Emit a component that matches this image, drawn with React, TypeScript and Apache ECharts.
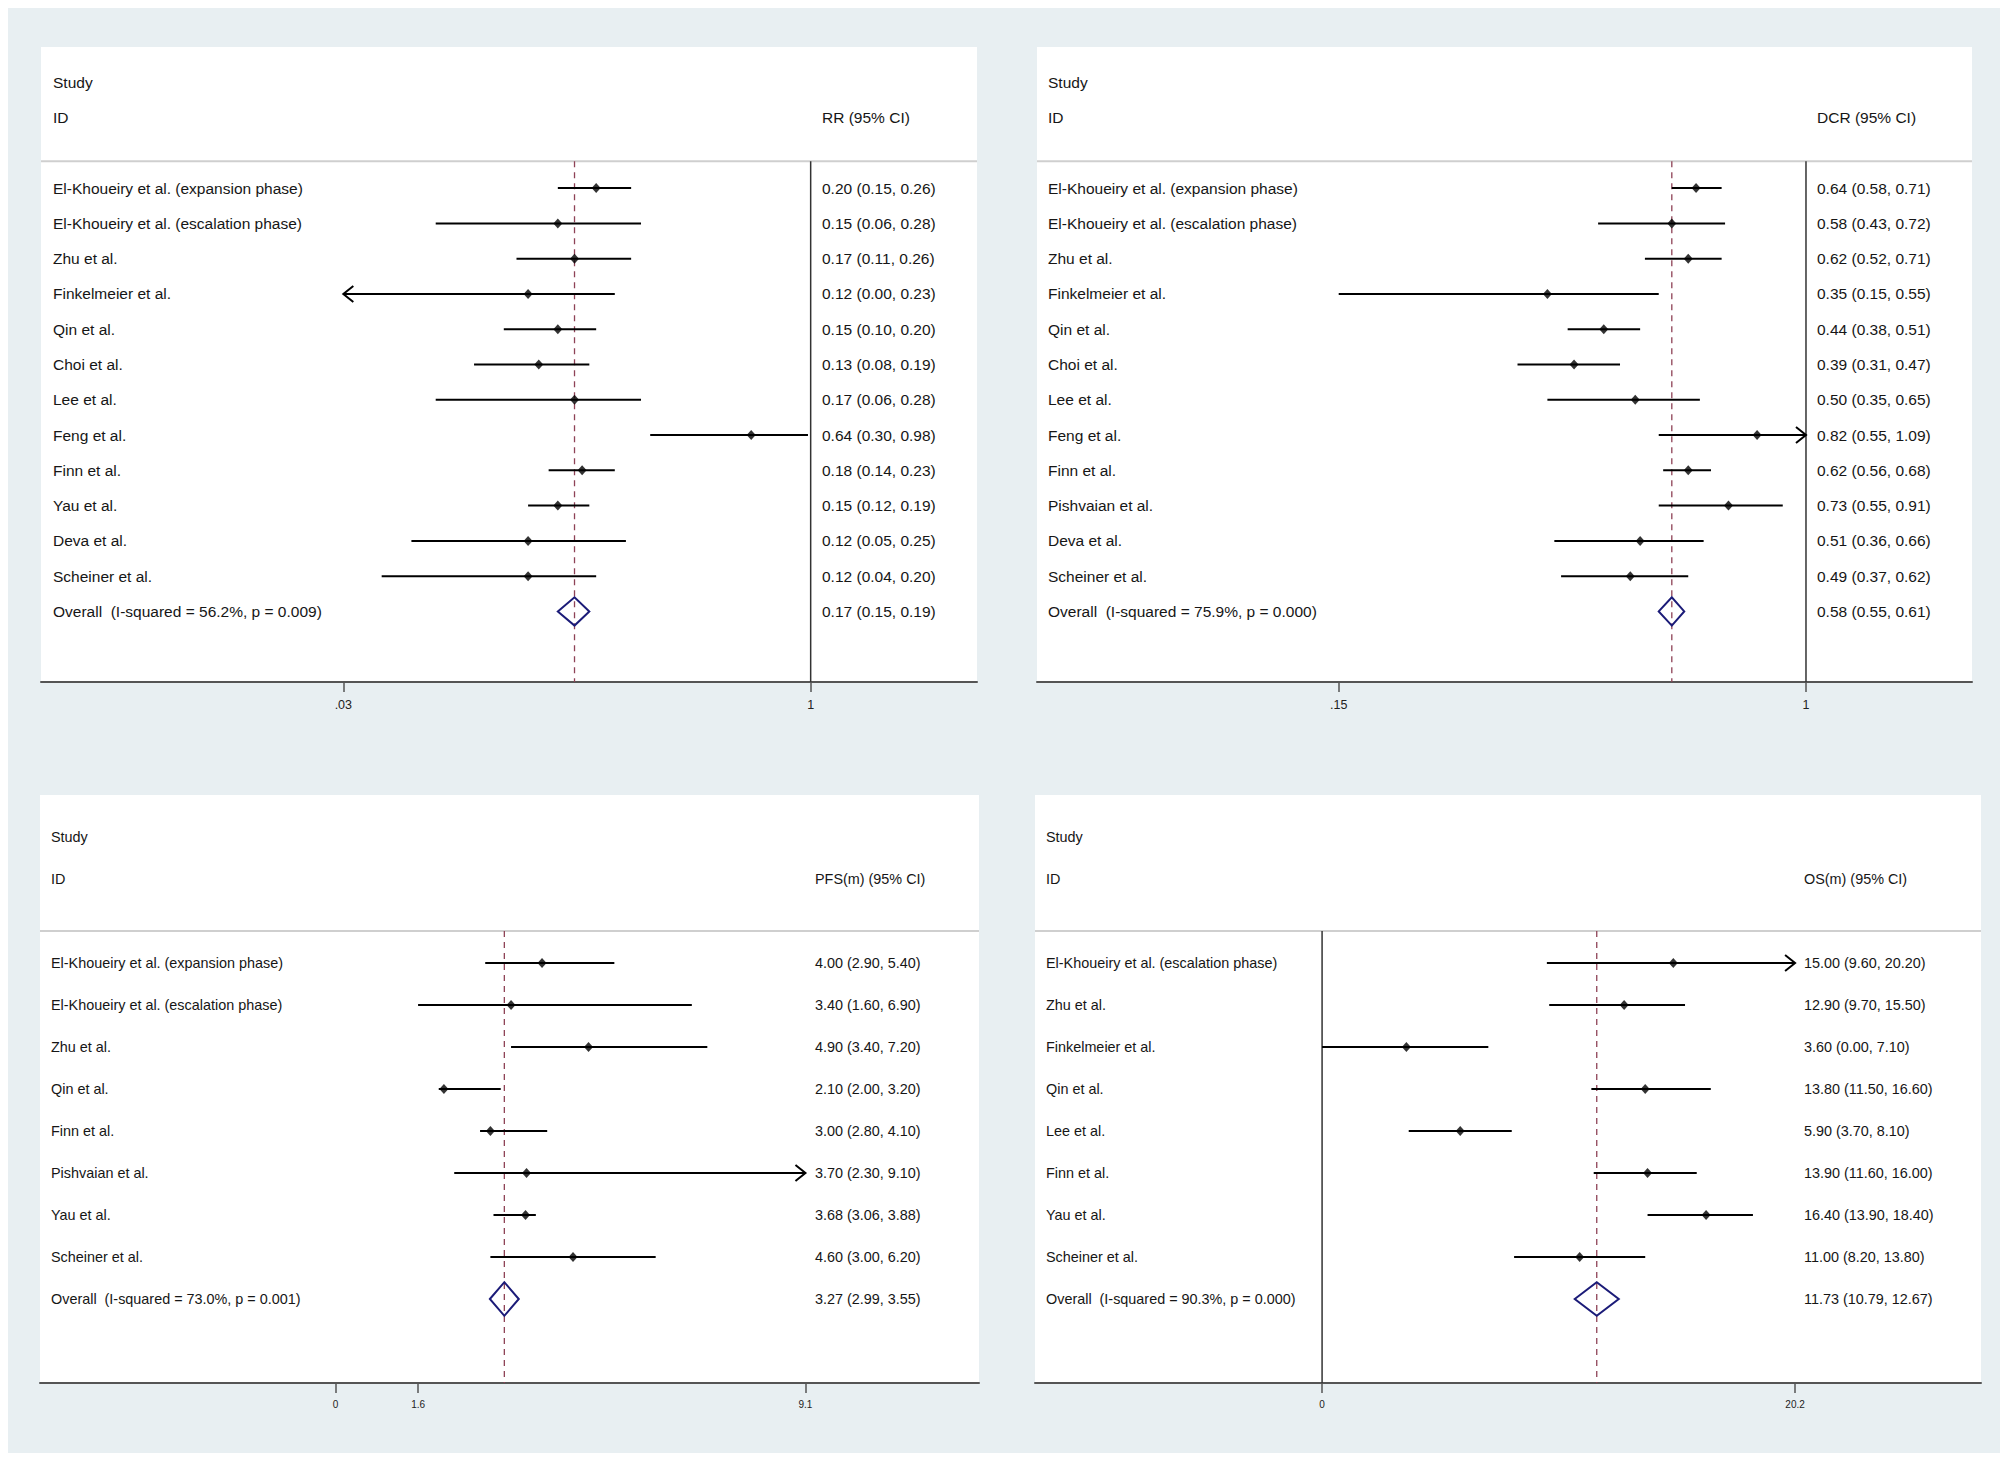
import React, { useEffect, useRef } from "react";
import * as echarts from "echarts";

// ---------- Panel 1: RR ----------
const rrStudies = [
  "El-Khoueiry et al. (expansion phase)",
  "El-Khoueiry et al. (escalation phase)",
  "Zhu et al.",
  "Finkelmeier et al.",
  "Qin et al.",
  "Choi et al.",
  "Lee et al.",
  "Feng et al.",
  "Finn et al.",
  "Yau et al.",
  "Deva et al.",
  "Scheiner et al.",
];
const rrEstimate = [0.2, 0.15, 0.17, 0.12, 0.15, 0.13, 0.17, 0.64, 0.18, 0.15, 0.12, 0.12];
const rrLower = [0.15, 0.06, 0.11, 0.0, 0.1, 0.08, 0.06, 0.3, 0.14, 0.12, 0.05, 0.04];
const rrUpper = [0.26, 0.28, 0.26, 0.23, 0.2, 0.19, 0.28, 0.98, 0.23, 0.19, 0.25, 0.2];
const rrOverall = [0.17, 0.15, 0.19];
const rrOverallLabel = "Overall  (I-squared = 56.2%, p = 0.009)";
const rrTicks = [0.03, 1];
const rrTickLabels = [".03", "1"];

// ---------- Panel 2: DCR ----------
const dcrStudies = [
  "El-Khoueiry et al. (expansion phase)",
  "El-Khoueiry et al. (escalation phase)",
  "Zhu et al.",
  "Finkelmeier et al.",
  "Qin et al.",
  "Choi et al.",
  "Lee et al.",
  "Feng et al.",
  "Finn et al.",
  "Pishvaian et al.",
  "Deva et al.",
  "Scheiner et al.",
];
const dcrEstimate = [0.64, 0.58, 0.62, 0.35, 0.44, 0.39, 0.5, 0.82, 0.62, 0.73, 0.51, 0.49];
const dcrLower = [0.58, 0.43, 0.52, 0.15, 0.38, 0.31, 0.35, 0.55, 0.56, 0.55, 0.36, 0.37];
const dcrUpper = [0.71, 0.72, 0.71, 0.55, 0.51, 0.47, 0.65, 1.09, 0.68, 0.91, 0.66, 0.62];
const dcrOverall = [0.58, 0.55, 0.61];
const dcrOverallLabel = "Overall  (I-squared = 75.9%, p = 0.000)";
const dcrTicks = [0.15, 1];
const dcrTickLabels = [".15", "1"];

// ---------- Panel 3: PFS ----------
const pfsStudies = [
  "El-Khoueiry et al. (expansion phase)",
  "El-Khoueiry et al. (escalation phase)",
  "Zhu et al.",
  "Qin et al.",
  "Finn et al.",
  "Pishvaian et al.",
  "Yau et al.",
  "Scheiner et al.",
];
const pfsEstimate = [4.0, 3.4, 4.9, 2.1, 3.0, 3.7, 3.68, 4.6];
const pfsLower = [2.9, 1.6, 3.4, 2.0, 2.8, 2.3, 3.06, 3.0];
const pfsUpper = [5.4, 6.9, 7.2, 3.2, 4.1, 9.1, 3.88, 6.2];
const pfsOverall = [3.27, 2.99, 3.55];
const pfsOverallLabel = "Overall  (I-squared = 73.0%, p = 0.001)";
const pfsTicks = [0, 1.6, 9.1];
const pfsTickLabels = ["0", "1.6", "9.1"];

// ---------- Panel 4: OS ----------
const osStudies = [
  "El-Khoueiry et al. (escalation phase)",
  "Zhu et al.",
  "Finkelmeier et al.",
  "Qin et al.",
  "Lee et al.",
  "Finn et al.",
  "Yau et al.",
  "Scheiner et al.",
];
const osEstimate = [15.0, 12.9, 3.6, 13.8, 5.9, 13.9, 16.4, 11.0];
const osLower = [9.6, 9.7, 0.0, 11.5, 3.7, 11.6, 13.9, 8.2];
const osUpper = [20.2, 15.5, 7.1, 16.6, 8.1, 16.0, 18.4, 13.8];
const osOverall = [11.73, 10.79, 12.67];
const osOverallLabel = "Overall  (I-squared = 90.3%, p = 0.000)";
const osTicks = [0, 20.2];
const osTickLabels = ["0", "20.2"];

const TEXT = "#161616";
const FONT = '"Liberation Sans", Arial, sans-serif';

type Panel = {
  studies: string[];
  est: number[];
  lo: number[];
  hi: number[];
  overall: number[];
  overallLabel: string;
  header: string;
  ticks: number[];
  tickLabels: string[];
  log: boolean;
  nullValue: number | null;
  grid: { left: number; top: number; width: number; height: number };
  xMin: number;
  xMax: number;
  fontSize: number;
  tickFont: number;
  labelMargin: number;
  nameX: number;
  estX: number;
};

const panels: Panel[] = [
  {
    studies: rrStudies, est: rrEstimate, lo: rrLower, hi: rrUpper,
    overall: rrOverall, overallLabel: rrOverallLabel, header: "RR (95% CI)",
    ticks: rrTicks, tickLabels: rrTickLabels, log: true, nullValue: 1,
    grid: { left: 33, top: 39, width: 936, height: 635 },
    xMin: -5.775, xMax: 1.248, fontSize: 15.5, tickFont: 12.5, labelMargin: 16,
    nameX: 12, estX: 781,
  },
  {
    studies: dcrStudies, est: dcrEstimate, lo: dcrLower, hi: dcrUpper,
    overall: dcrOverall, overallLabel: dcrOverallLabel, header: "DCR (95% CI)",
    ticks: dcrTicks, tickLabels: dcrTickLabels, log: true, nullValue: 1,
    grid: { left: 1029, top: 39, width: 935, height: 635 },
    xMin: -3.122, xMax: 0.674, fontSize: 15.5, tickFont: 12.5, labelMargin: 16,
    nameX: 11, estX: 780,
  },
  {
    studies: pfsStudies, est: pfsEstimate, lo: pfsLower, hi: pfsUpper,
    overall: pfsOverall, overallLabel: pfsOverallLabel, header: "PFS(m) (95% CI)",
    ticks: pfsTicks, tickLabels: pfsTickLabels, log: false, nullValue: null,
    grid: { left: 32, top: 787, width: 939, height: 588 },
    xMin: -5.72, xMax: 12.46, fontSize: 14.4, tickFont: 10, labelMargin: 16,
    nameX: 11, estX: 775,
  },
  {
    studies: osStudies, est: osEstimate, lo: osLower, hi: osUpper,
    overall: osOverall, overallLabel: osOverallLabel, header: "OS(m) (95% CI)",
    ticks: osTicks, tickLabels: osTickLabels, log: false, nullValue: 0,
    grid: { left: 1027, top: 787, width: 946, height: 588 },
    xMin: -12.26, xMax: 28.14, fontSize: 14.4, tickFont: 10, labelMargin: 16,
    nameX: 11, estX: 769,
  },
];

const fmt = (e: number, l: number, h: number) =>
  `${e.toFixed(2)} (${l.toFixed(2)}, ${h.toFixed(2)})`;

function buildOption() {
  const grids: any[] = [];
  const xAxes: any[] = [];
  const yAxes: any[] = [];
  const series: any[] = [];

  panels.forEach((p, k) => {
    const tx = (v: number) => (p.log ? Math.log(v) : v);
    const n = p.studies.length;
    const clipMin = p.ticks[0];
    const clipMax = p.ticks[p.ticks.length - 1];
    const tickVals = p.ticks.map(tx);

    grids.push({
      ...p.grid,
      show: true,
      backgroundColor: "#ffffff",
      borderWidth: 0,
      containLabel: false,
    });
    xAxes.push({
      type: "value",
      gridIndex: k,
      min: p.xMin,
      max: p.xMax,
      axisLine: { show: true, onZero: false, lineStyle: { color: "#555555", width: 2 } },
      axisTick: {
        show: true,
        customValues: tickVals,
        length: 10,
        lineStyle: { color: "#555555", width: 1.5 },
      },
      axisLabel: {
        show: true,
        customValues: tickVals,
        margin: p.labelMargin,
        fontSize: p.tickFont,
        fontFamily: FONT,
        color: "#222222",
        formatter: (v: number) => {
          let best = 0;
          tickVals.forEach((t, i) => {
            if (Math.abs(t - v) < Math.abs(tickVals[best] - v)) best = i;
          });
          return p.tickLabels[best];
        },
      },
      splitLine: { show: false },
    });
    yAxes.push({
      type: "value",
      gridIndex: k,
      min: -4,
      max: n + 2,
      inverse: true,
      show: false,
      splitLine: { show: false },
    });

    // guides: separator, null line, overall dashed line
    series.push({
      type: "custom",
      xAxisIndex: k,
      yAxisIndex: k,
      silent: true,
      z: 1,
      data: [[p.xMin, -0.76]],
      renderItem: (params: any, api: any) => {
        const cs = params.coordSys;
        const ySep = api.coord([p.xMin, -0.76])[1];
        const yBot = cs.y + cs.height;
        const children: any[] = [
          {
            type: "line",
            shape: { x1: cs.x, y1: ySep, x2: cs.x + cs.width, y2: ySep },
            style: { stroke: "#cfcfcf", lineWidth: 2 },
          },
        ];
        if (p.nullValue !== null) {
          const xn = api.coord([tx(p.nullValue), 0])[0];
          children.push({
            type: "line",
            shape: { x1: xn, y1: ySep, x2: xn, y2: yBot },
            style: { stroke: "#333333", lineWidth: 1.5 },
          });
        }
        const xo = api.coord([tx(p.overall[0]), 0])[0];
        children.push({
          type: "line",
          shape: { x1: xo, y1: ySep, x2: xo, y2: yBot },
          style: { stroke: "#8e4256", lineWidth: 1.3, lineDash: [6, 5] },
        });
        return { type: "group", children };
      },
    });

    // confidence interval lines with arrows
    const ciData = p.studies.map((_, i) => [
      i,
      tx(Math.max(p.lo[i], clipMin)),
      tx(Math.min(p.hi[i], clipMax)),
      p.lo[i] < clipMin ? 1 : 0,
      p.hi[i] >= clipMax ? 1 : 0,
    ]);
    series.push({
      type: "custom",
      xAxisIndex: k,
      yAxisIndex: k,
      silent: true,
      z: 3,
      encode: { x: [1, 2], y: 0 },
      data: ciData,
      renderItem: (params: any, api: any) => {
        const row = api.value(0);
        const a = api.coord([api.value(1), row]);
        const b = api.coord([api.value(2), row]);
        const children: any[] = [
          {
            type: "line",
            shape: { x1: a[0], y1: a[1], x2: b[0], y2: b[1] },
            style: { stroke: "#000000", lineWidth: 2 },
          },
        ];
        if (api.value(3)) {
          children.push({
            type: "polyline",
            shape: { points: [[a[0] + 10, a[1] - 8], [a[0], a[1]], [a[0] + 10, a[1] + 8]] },
            style: { stroke: "#000000", lineWidth: 2, fill: "none" },
          });
        }
        if (api.value(4)) {
          children.push({
            type: "polyline",
            shape: { points: [[b[0] - 10, b[1] - 8], [b[0], b[1]], [b[0] - 10, b[1] + 8]] },
            style: { stroke: "#000000", lineWidth: 2, fill: "none" },
          });
        }
        return { type: "group", children };
      },
    });

    // point estimates
    series.push({
      type: "scatter",
      xAxisIndex: k,
      yAxisIndex: k,
      silent: true,
      z: 4,
      symbol: "diamond",
      symbolSize: [9, 10],
      itemStyle: { color: "#000000" },
      data: p.est.map((e, i) => [tx(e), i]),
    });

    // overall diamond
    series.push({
      type: "custom",
      xAxisIndex: k,
      yAxisIndex: k,
      silent: true,
      z: 4,
      encode: { x: [0, 1, 2], y: 3 },
      data: [[tx(p.overall[0]), tx(p.overall[1]), tx(p.overall[2]), n]],
      renderItem: (params: any, api: any) => {
        const row = api.value(3);
        const c = api.coord([api.value(0), row - 0.4]);
        const l = api.coord([api.value(1), row]);
        const r = api.coord([api.value(2), row]);
        const d = api.coord([api.value(0), row + 0.4]);
        return {
          type: "polygon",
          shape: { points: [l, c, r, d] },
          style: { stroke: "#1b1b78", lineWidth: 2, fill: "none" },
        };
      },
    });

    // texts: header + study rows + overall
    const rowIdx = [-3, -2, ...p.studies.map((_, i) => i), n];
    const leftTexts = ["Study", "ID", ...p.studies, p.overallLabel];
    const rightTexts = [
      "",
      p.header,
      ...p.studies.map((_, i) => fmt(p.est[i], p.lo[i], p.hi[i])),
      fmt(p.overall[0], p.overall[1], p.overall[2]),
    ];
    series.push({
      type: "custom",
      xAxisIndex: k,
      yAxisIndex: k,
      silent: true,
      z: 5,
      clip: false,
      data: rowIdx.map((r) => [p.xMin, r]),
      renderItem: (params: any, api: any) => {
        const cs = params.coordSys;
        const i = params.dataIndex;
        const y = api.coord([p.xMin, api.value(1)])[1];
        const st = {
          fill: TEXT,
          fontSize: p.fontSize,
          fontFamily: FONT,
          verticalAlign: "middle",
          align: "left",
        };
        return {
          type: "group",
          children: [
            { type: "text", x: cs.x + p.nameX, y, style: { ...st, text: leftTexts[i] } },
            { type: "text", x: cs.x + p.estX, y, style: { ...st, text: rightTexts[i] } },
          ],
        };
      },
    });
  });

  return {
    animation: false,
    backgroundColor: "#e8eff2",
    grid: grids,
    xAxis: xAxes,
    yAxis: yAxes,
    series,
  };
}

export default function App() {
  const ref = useRef<HTMLDivElement>(null);
  useEffect(() => {
    if (!ref.current) return;
    const chart = echarts.init(ref.current, undefined, { renderer: "svg" });
    chart.setOption(buildOption() as any);
    return () => chart.dispose();
  }, []);
  return <div ref={ref} style={{ width: 1992, height: 1445 }} />;
}
